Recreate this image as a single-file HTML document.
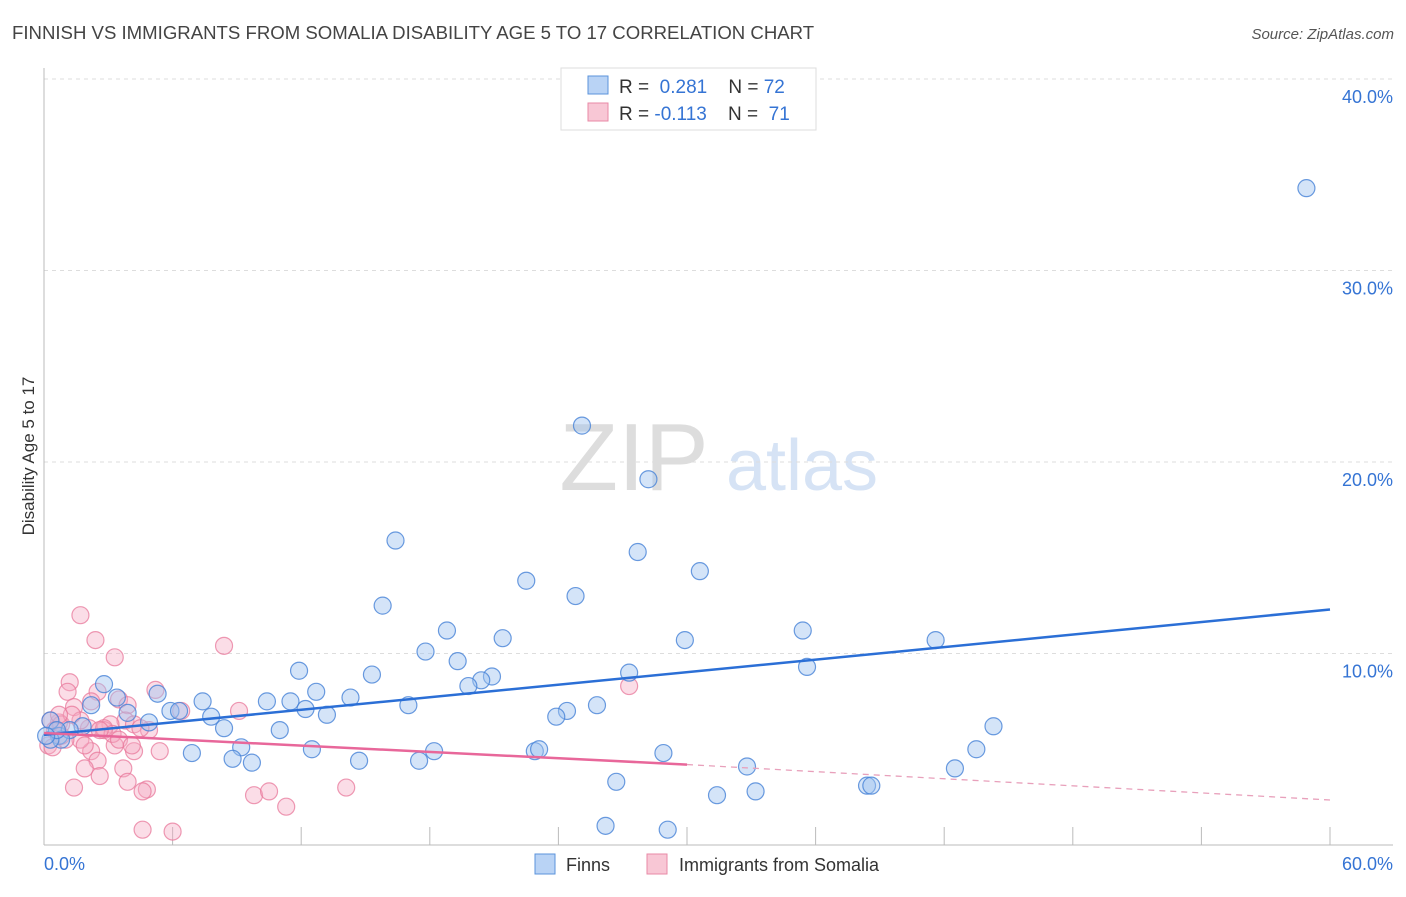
<!DOCTYPE html>
<html><head><meta charset="utf-8"><style>
body{margin:0;background:#fff;font-family:"Liberation Sans",sans-serif;}
svg text{font-family:"Liberation Sans",sans-serif;}
</style></head><body>
<svg id="chart" width="1406" height="892" xmlns="http://www.w3.org/2000/svg">
<text x="12" y="39" font-size="18.6" fill="#444">FINNISH VS IMMIGRANTS FROM SOMALIA DISABILITY AGE 5 TO 17 CORRELATION CHART</text>
<text x="1394" y="39" font-size="15" fill="#555" text-anchor="end" font-style="italic">Source: ZipAtlas.com</text>
<g>
<text x="634" y="490" font-size="96" fill="#ddd" text-anchor="middle" font-family="Liberation Serif,serif">ZIP</text>
<text x="802" y="490" font-size="72" fill="#d6e3f5" text-anchor="middle">atlas</text>
</g>
<g id="grid"></g>
<g id="axes"></g>
<g id="pts"></g>
<g id="trend"></g>
<text transform="translate(34,456) rotate(-90)" font-size="17" fill="#333" text-anchor="middle">Disability Age 5 to 17</text>
<g>
<rect x="561" y="68" width="255" height="62" fill="#fff" stroke="#ddd"/>
<rect x="588" y="76" width="20" height="18" fill="#b9d3f5" stroke="#5b93db"/>
<rect x="588" y="103" width="20" height="18" fill="#f8c7d5" stroke="#e88aa6"/>
<text x="619" y="93" font-size="19" fill="#333">R = <tspan fill="#3574d4">&#160;0.281</tspan>&#160;&#160;&#160;&#160;N = <tspan fill="#3574d4">72</tspan></text>
<text x="619" y="120" font-size="19" fill="#333">R = <tspan fill="#3574d4">-0.113</tspan>&#160;&#160;&#160;&#160;N = <tspan fill="#3574d4">&#160;71</tspan></text>
</g>
<g>
<rect x="535" y="854" width="20" height="20" fill="#b9d3f5" stroke="#5b93db"/>
<text x="566" y="871" font-size="18" fill="#333">Finns</text>
<rect x="647" y="854" width="20" height="20" fill="#f8c7d5" stroke="#e88aa6"/>
<text x="679" y="871" font-size="18" fill="#333">Immigrants from Somalia</text>
</g>
</svg>
<script>
const finnsX=[58.9,25.1,28.2,16.4,27.7,30.6,22.5,24.8,15.8,18.8,21.4,29.9,35.4,41.6,17.8,19.3,11.9,35.6,27.3,15.3,20.9,20.4,19.8,12.7,14.3,2.8,5.3,3.4,7.4,10.4,11.5,17.0,12.2,5.9,6.3,7.8,13.2,25.8,24.4,23.9,3.9,4.9,2.2,1.8,8.4,11.0,44.3,0.7,1.2,0.8,0.3,0.3,12.5,9.2,18.2,6.9,8.8,9.7,14.7,17.5,22.9,23.1,28.9,43.5,32.8,42.5,26.7,38.4,38.6,33.2,31.4,26.2,29.1,0.6,0.1];
const finnsY=[34.3,21.9,19.1,15.9,15.3,14.3,13.8,13.0,12.5,11.2,10.8,10.7,11.2,10.7,10.1,9.6,9.1,9.3,9.0,8.9,8.8,8.6,8.3,8.0,7.7,8.4,7.9,7.7,7.5,7.5,7.5,7.3,7.1,7.0,7.0,6.7,6.8,7.3,7.0,6.7,6.9,6.4,7.3,6.2,6.1,6.0,6.2,5.7,6.0,5.5,6.5,5.5,5.0,5.1,4.9,4.8,4.5,4.3,4.4,4.4,4.9,5.0,4.8,5.0,4.1,4.0,3.3,3.1,3.1,2.8,2.6,1.0,0.8,6.0,5.7];
const somX=[1.7,2.4,3.3,8.4,1.2,1.1,2.5,5.2,6.4,9.1,27.3,2.2,1.4,0.7,3.5,3.9,3.8,3.1,4.2,3.3,2.2,2.5,1.9,3.7,2.6,3.9,4.8,1.4,4.6,5.4,4.2,0.3,0.5,0.8,0.2,0.4,1.7,1.0,2.1,2.8,1.7,2.8,3.2,9.8,10.5,11.3,14.1,4.6,6.0,0.8,1.3,0.7,2.6,1.9,3.5,4.1,4.9,4.5];
const somY=[12.0,10.7,9.8,10.4,8.5,8.0,8.0,8.1,7.0,7.0,8.3,7.5,7.2,6.4,7.6,7.3,6.5,6.3,6.3,5.2,4.9,4.4,4.0,4.0,3.6,3.3,2.9,3.0,2.8,4.9,4.9,6.5,6.0,6.3,5.2,5.1,5.5,5.5,6.1,6.0,6.5,6.1,5.8,2.6,2.8,2.0,3.0,0.8,0.7,5.7,6.8,6.8,6.0,5.2,5.5,5.2,6.0,6.1];
const finnsTrend=[5.75,12.3];
const somTrendStart=[5.85];
const somTrendSolidEnd=[30,4.2];
const somTrendDashEnd=[60,2.35];
const yTicks=[10,20,30,40];
const yTickLabels=["10.0%","20.0%","30.0%","40.0%"];
const xTicks=[0,6,12,18,24,30,36,42,48,54,60];

const NS="http://www.w3.org/2000/svg";
const X0=44,X1=1330,Y0=845,PXY=19.15;
function sx(v){return X0+v*(X1-X0)/60;}
function sy(v){return Y0-v*PXY;}
function mk(tag,attrs,parent){const e=document.createElementNS(NS,tag);for(const k in attrs)e.setAttribute(k,attrs[k]);parent.appendChild(e);return e;}
const grid=document.getElementById('grid'),axes=document.getElementById('axes'),pts=document.getElementById('pts'),tr=document.getElementById('trend');
yTicks.forEach((t,i)=>{
 const l=mk('line',{x1:X0,x2:1393,y1:sy(t),y2:sy(t),stroke:'#ddd','stroke-dasharray':'4,4'},grid);
 
 
 const tx=mk('text',{x:1393,y:sy(t)+24,'font-size':18,fill:'#3574d4','text-anchor':'end'},axes);
 tx.textContent=yTickLabels[i];
 
 
});
const ax=mk('line',{x1:X0,x2:1393,y1:Y0,y2:Y0,stroke:'#bbb'},axes);


const ay=mk('line',{x1:X0,x2:X0,y1:68,y2:Y0,stroke:'#bbb'},axes);


xTicks.forEach(t=>{
 const l=mk('line',{x1:sx(t),x2:sx(t),y1:Y0,y2:Y0-18,stroke:'#bbb'},axes);
 
 
});
const xl0=mk('text',{x:44,y:870,'font-size':18,fill:'#3574d4'},axes);xl0.textContent='0.0%';


const xl1=mk('text',{x:1393,y:870,'font-size':18,fill:'#3574d4','text-anchor':'end'},axes);xl1.textContent='60.0%';


somX.forEach((v,i)=>{
 const c=mk('circle',{cx:sx(v),cy:sy(somY[i]),r:8.5,fill:'rgba(244,170,195,0.4)',stroke:'rgba(232,120,155,0.75)','stroke-width':1.2},pts);
 
 
});
finnsX.forEach((v,i)=>{
 const c=mk('circle',{cx:sx(v),cy:sy(finnsY[i]),r:8.5,fill:'rgba(160,195,240,0.45)',stroke:'rgba(70,130,215,0.8)','stroke-width':1.2},pts);
 
 
});
const bt=mk('line',{x1:sx(0),y1:sy(finnsTrend[0]),x2:sx(60),y2:sy(finnsTrend[1]),stroke:'#2b6fd6','stroke-width':2.5},tr);


const pt=mk('line',{x1:sx(0),y1:sy(somTrendStart[0]),x2:sx(somTrendSolidEnd[0]),y2:sy(somTrendSolidEnd[1]),stroke:'#e8679a','stroke-width':2.5},tr);


const pd=mk('line',{x1:sx(somTrendSolidEnd[0]),y1:sy(somTrendSolidEnd[1]),x2:sx(somTrendDashEnd[0]),y2:sy(somTrendDashEnd[1]),stroke:'#e8a0bb','stroke-width':1.3,'stroke-dasharray':'6,5'},tr);


</script>
</body></html>
